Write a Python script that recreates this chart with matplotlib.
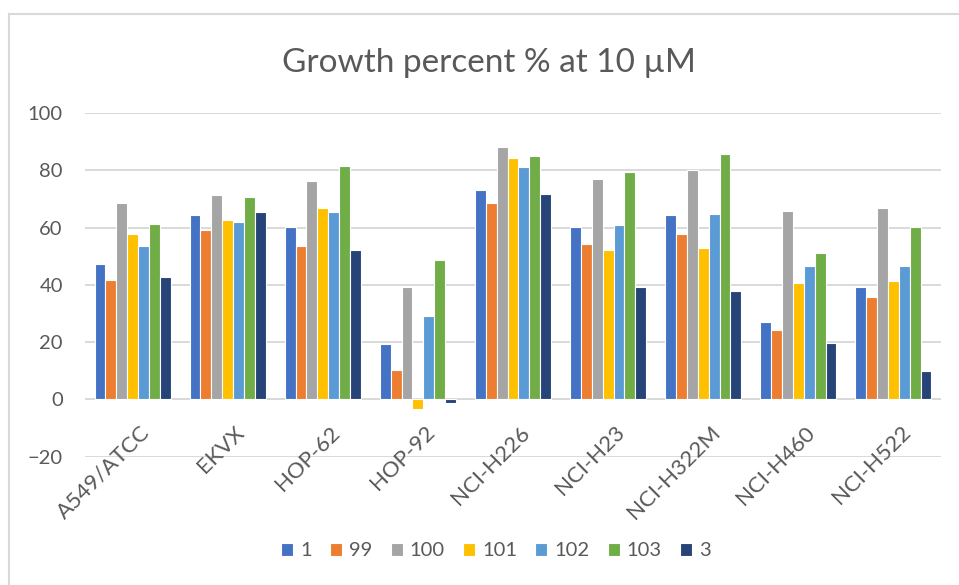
import numpy as np
import matplotlib
matplotlib.use("Agg")
import matplotlib.pyplot as plt
from matplotlib.lines import Line2D

plt.rcParams['font.family'] = ['Lato', 'DejaVu Sans']

cell_lines = ["A549/ATCC", "EKVX", "HOP-62", "HOP-92", "NCI-H226",
              "NCI-H23", "NCI-H322M", "NCI-H460", "NCI-H522"]
series_names = ["1", "99", "100", "101", "102", "103", "3"]

s_1   = [47.1, 64.5, 60.1, 19.3, 73.0, 60.1, 64.5, 26.9, 39.4]
s_99  = [41.6, 59.2, 53.4, 10.3, 68.5, 54.2, 57.8, 24.3, 35.8]
s_100 = [68.5, 71.3, 76.2, 39.1, 88.3, 77.0, 80.1, 65.8, 66.7]
s_101 = [57.8, 62.8, 66.7, -3.5, 84.2, 52.0, 52.9, 40.8, 41.2]
s_102 = [53.5, 61.9, 65.5, 29.2, 81.1, 60.9, 64.9, 46.6, 46.6]
s_103 = [61.4, 70.8, 81.5, 48.5, 85.1, 79.3, 85.6, 51.0, 60.1]
s_3   = [42.6, 65.5, 52.0, -1.3, 71.6, 39.4, 37.7, 19.8, 9.9]

colors = ["#4472C4", "#ED7D31", "#A5A5A5", "#FFC000", "#5B9BD5", "#70AD47", "#264478"]
all_series = [s_1, s_99, s_100, s_101, s_102, s_103, s_3]

W, H = 959, 585
fig = plt.figure(figsize=(W / 100, H / 100), dpi=100)

# chart frame
fig.add_artist(Line2D([9 / W, 1.0], [1 - 14 / H, 1 - 14 / H], color="#d9d9d9", lw=1.5,
                      transform=fig.transFigure))
fig.add_artist(Line2D([9 / W, 9 / W], [0.0, 1 - 14 / H], color="#d9d9d9", lw=1.5,
                      transform=fig.transFigure))

left, right = 85 / W, 941 / W
top_px, bot_px = 113.0, 456.6
ax = fig.add_axes([left, 1 - bot_px / H, right - left, (bot_px - top_px) / H])

n_series = len(all_series)
x = np.arange(len(cell_lines))
group = 0.8
bw = group / n_series
for i, (vals, c, name) in enumerate(zip(all_series, colors, series_names)):
    ax.bar(x - group / 2 + bw * (i + 0.5), vals, width=bw, color=c,
           edgecolor="white", linewidth=0.8, label=name, zorder=3)

ax.set_xlim(-0.5, len(cell_lines) - 0.5)
ax.set_ylim(-20, 100)
ax.set_yticks(np.arange(-20, 101, 20))
ax.yaxis.grid(True, color="#d9d9d9", lw=1.4, zorder=0)
ax.set_axisbelow(True)
for sp in ax.spines.values():
    sp.set_visible(False)
ax.axhline(0, color="#d9d9d9", lw=1.4, zorder=2)

ax.tick_params(axis="y", length=0, pad=16, labelsize=14.5, labelcolor="#595959")
ax.tick_params(axis="x", length=0, pad=0)
ax.set_xticks(x)
ax.set_xticklabels([])
for xi, lab in zip(x, cell_lines):
    ax.text(xi + 0.07, -8.0, lab, rotation=45,
            ha="right", va="top", rotation_mode="anchor", fontsize=16,
            color="#595959")

fig.text(0.51, 1 - 63 / H, "Growth percent % at 10 µM", ha="center", va="center",
         fontsize=24, color="#595959")

handles, labels = ax.get_legend_handles_labels()
fig.legend(handles, labels, loc="center", bbox_to_anchor=(496 / W, 1 - 551 / H),
           ncol=7, frameon=False, fontsize=14.5, labelcolor="#595959",
           handlelength=0.6, handleheight=0.6, handletextpad=0.35, columnspacing=0.9)

fig.savefig("out.png", dpi=100, facecolor="white")
